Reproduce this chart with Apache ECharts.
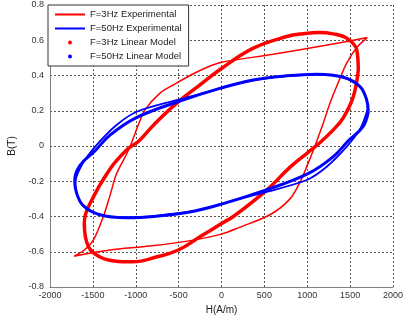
<!DOCTYPE html>
<html>
<head>
<meta charset="utf-8">
<script src="https://cdn.jsdelivr.net/npm/echarts@6/dist/echarts.min.js"></script>
<style>
html,body{margin:0;padding:0;background:#fff;}
#c{width:404px;height:321px;}
</style>
</head>
<body>
<div id="c"></div>
<script>
// Tick values
var xTicks = [-2000, -1500, -1000, -500, 0, 500, 1000, 1500, 2000];
var yTicks = [-0.8, -0.6, -0.4, -0.2, 0, 0.2, 0.4, 0.6, 0.8];

// Series names
var seriesNames = ['F=3Hz Experimental', 'F=50Hz Experimental', 'F=3Hz Linear Model', 'F=50Hz Linear Model'];

// F=3Hz Experimental  [H, B]
var exp3Hz = [
  [-1720,-0.625],[-1300,-0.59],[-834,-0.568],[-329,-0.534],[0,-0.50],[216,-0.46],[566,-0.39],
  [799,-0.30],[920,-0.20],[1000,-0.11],[1090,0.0],[1180,0.12],[1265,0.243],[1370,0.37],
  [1460,0.47],[1580,0.56],[1700,0.615],
  [1200,0.57],[600,0.52],[0,0.475],[-200,0.44],[-367,0.40],[-550,0.35],[-717,0.30],
  [-892,0.205],[-970,0.12],[-1040,0.03],[-1100,-0.04],[-1222,-0.155],[-1300,-0.28],
  [-1378,-0.40],[-1495,-0.534],[-1600,-0.59],[-1720,-0.625]
];

// F=50Hz Experimental  [H, B]
var exp50Hz = [
  [1705,0.21],[1690,0.27],[1610,0.34],[1421,0.39],[1110,0.405],[760,0.396],[371,0.373],[0,0.33],
  [-138,0.31],[-527,0.26],[-994,0.193],[-1227,0.118],[-1460,0.004],[-1620,-0.10],[-1705,-0.21],
  [-1690,-0.27],[-1610,-0.34],[-1421,-0.39],[-1110,-0.405],[-760,-0.396],[-371,-0.373],[0,-0.33],
  [138,-0.31],[527,-0.26],[994,-0.193],[1227,-0.118],[1460,-0.004],[1620,0.10],[1705,0.21]
];

// F=3Hz Linear Model  [H, B]
var model3Hz = [
  [1595,0.43],[1577,0.545],[1460,0.612],[1300,0.636],[1149,0.644],[950,0.637],[760,0.621],
  [371,0.555],[0,0.44],[-251,0.347],[-522,0.243],[-780,0.125],[-960,0.03],[-1100,-0.02],
  [-1300,-0.13],[-1533,-0.326],[-1600,-0.44],[-1553,-0.57],[-1417,-0.63],[-1250,-0.652],
  [-1029,-0.657],[-760,-0.63],[-504,-0.59],[-251,-0.515],[0,-0.44],[138,-0.40],[527,-0.25],
  [800,-0.12],[1000,-0.04],[1150,0.02],[1300,0.09],[1420,0.16],[1537,0.28],[1595,0.43]
];

// F=50Hz Linear Model  [H, B]
var model50Hz = [
  [1712,0.195],[1693,0.261],[1615,0.337],[1421,0.39],[1110,0.407],[760,0.398],[371,0.375],
  [0,0.33],[-504,0.252],[-1009,0.157],[-1304,0.06],[-1479,-0.03],[-1650,-0.11],[-1712,-0.195],
  [-1693,-0.261],[-1615,-0.337],[-1421,-0.39],[-1110,-0.407],[-760,-0.398],[-371,-0.375],
  [0,-0.33],[504,-0.252],[1009,-0.157],[1304,-0.06],[1479,0.03],[1650,0.11],[1712,0.195]
];

var FONT = '"Liberation Sans", Arial, sans-serif';
var RED = '#ff0000', BLUE = '#0000ff';
var LINE_ICON = 'path://M0,0H30V2H0Z';

var chart = echarts.init(document.getElementById('c'), null, {renderer: 'canvas'});
chart.setOption({
  animation: false,
  backgroundColor: '#ffffff',
  grid: {left: 50, right: 11, top: 5, bottom: 34, containLabel: false, outerBoundsMode: 'none'},
  xAxis: {
    type: 'value',
    min: xTicks[0], max: xTicks[xTicks.length - 1], interval: xTicks[1] - xTicks[0],
    name: 'H(A/m)', nameLocation: 'middle', nameGap: 3,
    nameTextStyle: {fontFamily: FONT, fontSize: 10, color: '#222'},
    axisLine: {show: true, onZero: false, lineStyle: {color: '#808080', width: 1}},
    axisTick: {show: false},
    axisLabel: {fontFamily: FONT, fontSize: 9, color: '#333', margin: 4,
      formatter: function (v) { return String(Math.round(v)); }},
    splitLine: {show: true, lineStyle: {color: '#555', type: [2, 2], width: 1}}
  },
  yAxis: {
    type: 'value',
    min: yTicks[0], max: yTicks[yTicks.length - 1], interval: 0.2,
    name: 'B(T)', nameLocation: 'middle', nameGap: 25, nameRotate: 90,
    nameTextStyle: {fontFamily: FONT, fontSize: 10, color: '#222'},
    axisLine: {show: true, onZero: false, lineStyle: {color: '#808080', width: 1}},
    axisTick: {show: false},
    axisLabel: {fontFamily: FONT, fontSize: 9, color: '#333', margin: 6,
      formatter: function (v) { return String(Math.round(v * 10) / 10); }},
    splitLine: {show: true, lineStyle: {color: '#555', type: [2, 2], width: 1}}
  },
  legend: {
    orient: 'vertical', left: 48, top: 5,
    padding: [4, 7, 4, 7],
    itemWidth: 30, itemHeight: 4, itemGap: 3,
    backgroundColor: '#ffffff', borderColor: '#333', borderWidth: 1,
    textStyle: {fontFamily: FONT, fontSize: 9.5, color: '#222', lineHeight: 11},
    data: [
      {name: seriesNames[0], icon: LINE_ICON},
      {name: seriesNames[1], icon: LINE_ICON},
      {name: seriesNames[2], icon: 'circle'},
      {name: seriesNames[3], icon: 'circle'}
    ],
    z: 10
  },
  series: [
    {name: seriesNames[0], type: 'line', data: exp3Hz, symbol: 'none', smooth: 0.3,
     color: RED, lineStyle: {color: RED, width: 1.5}, z: 2},
    {name: seriesNames[2], type: 'line', data: model3Hz, symbol: 'none', smooth: 0.4,
     color: RED, lineStyle: {color: RED, width: 3.5}, z: 2},
    {name: seriesNames[1], type: 'line', data: exp50Hz, symbol: 'none', smooth: 0.3,
     color: BLUE, lineStyle: {color: BLUE, width: 1.8}, z: 3},
    {name: seriesNames[3], type: 'line', data: model50Hz, symbol: 'none', smooth: 0.4,
     color: BLUE, lineStyle: {color: BLUE, width: 3}, z: 3}
  ]
});
</script>
</body>
</html>
